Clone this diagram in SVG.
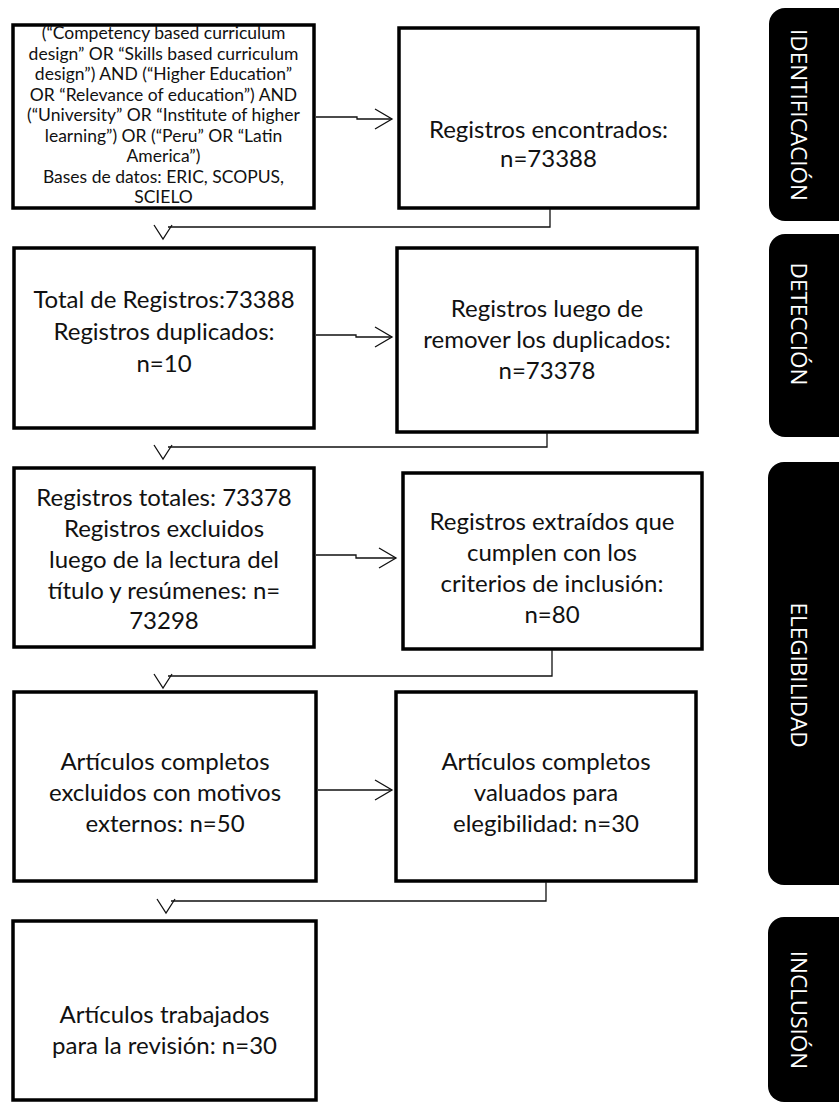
<svg xmlns="http://www.w3.org/2000/svg" xmlns:xlink="http://www.w3.org/1999/xlink" width="839" height="1111" viewBox="0 0 839 1111">
<style>
.box{fill:#fff;stroke:#000;stroke-width:3.5}
.t{font-family:Lato,"Open Sans","Liberation Sans",sans-serif;font-size:24px;fill:#111;text-anchor:middle}
.ts{font-family:Lato,"Open Sans","Liberation Sans",sans-serif;font-size:17.5px;fill:#111;text-anchor:middle}
.tab{fill:#000}
.tt{font-family:"Open Sans","Noto Sans","Liberation Sans",sans-serif;font-size:22.5px;fill:#fff;text-anchor:middle}
.c{fill:none;stroke:#111;stroke-width:1.3}
</style>
<defs>
<path id="vdown" d="M-9,-14 L0,0 L9,-14" fill="none" stroke="#111" stroke-width="1.3"/>
<path id="vright" d="M-17,-10 L0,0 L-17,10" fill="none" stroke="#111" stroke-width="1.3"/>
</defs>
<rect width="839" height="1111" fill="#fff"/>
<g id="n1">
<rect class="box" x="13" y="25" width="301" height="183"/>
<text class="ts"><tspan x="163.5" y="39">(“Competency based curriculum</tspan><tspan x="163.5" y="59.5">design” OR “Skills based curriculum</tspan><tspan x="163.5" y="80">design”) AND (“Higher Education”</tspan><tspan x="163.5" y="100.5">OR “Relevance of education”) AND</tspan><tspan x="163.5" y="121">(“University” OR “Institute of higher</tspan><tspan x="163.5" y="141.5">learning”) OR (“Peru” OR “Latin</tspan><tspan x="163.5" y="162">America”)</tspan><tspan x="163.5" y="182.5">Bases de datos: ERIC, SCOPUS,</tspan><tspan x="163.5" y="203">SCIELO</tspan></text>
</g>
<g id="n2">
<rect class="box" x="399" y="28" width="299" height="180"/>
<text class="t"><tspan x="548.5" y="138">Registros encontrados:</tspan><tspan x="548.5" y="167">n=73388</tspan></text>
</g>
<g id="n3">
<rect class="box" x="14" y="248" width="300" height="180"/>
<text class="t"><tspan x="164" y="308">Total de Registros:73388</tspan><tspan x="164" y="340">Registros duplicados:</tspan><tspan x="164" y="372">n=10</tspan></text>
</g>
<g id="n4">
<rect class="box" x="397" y="248" width="300" height="184"/>
<text class="t"><tspan x="547" y="317">Registros luego de</tspan><tspan x="547" y="348">remover los duplicados:</tspan><tspan x="547" y="379">n=73378</tspan></text>
</g>
<g id="n5">
<rect class="box" x="14" y="468" width="300" height="179"/>
<text class="t"><tspan x="164" y="506">Registros totales: 73378</tspan><tspan x="164" y="537">Registros excluidos</tspan><tspan x="164" y="568">luego de la lectura del</tspan><tspan x="164" y="599">título y resúmenes: n=</tspan><tspan x="164" y="629">73298</tspan></text>
</g>
<g id="n6">
<rect class="box" x="403" y="473" width="299" height="176"/>
<text class="t"><tspan x="552" y="530">Registros extraídos que</tspan><tspan x="552" y="561">cumplen con los</tspan><tspan x="552" y="592">criterios de inclusión:</tspan><tspan x="552" y="623">n=80</tspan></text>
</g>
<g id="n7">
<rect class="box" x="14" y="692" width="302" height="189"/>
<text class="t"><tspan x="165" y="770">Artículos completos</tspan><tspan x="165" y="801">excluidos con motivos</tspan><tspan x="165" y="832">externos: n=50</tspan></text>
</g>
<g id="n8">
<rect class="box" x="396" y="692" width="300" height="189"/>
<text class="t"><tspan x="546" y="770">Artículos completos</tspan><tspan x="546" y="801">valuados para</tspan><tspan x="546" y="832">elegibilidad: n=30</tspan></text>
</g>
<g id="n9">
<rect class="box" x="13" y="921" width="303" height="179"/>
<text class="t"><tspan x="164.5" y="1023">Artículos trabajados</tspan><tspan x="164.5" y="1054">para la revisión: n=30</tspan></text>
</g>
<g id="tab1">
<rect class="tab" x="769" y="8" width="90" height="213" rx="16"/>
<text class="tt" transform="translate(791,115) rotate(90)">IDENTIFICACIÓN</text>
</g>
<g id="tab2">
<rect class="tab" x="769" y="234" width="90" height="203" rx="16"/>
<text class="tt" transform="translate(791,324) rotate(90)">DETECCIÓN</text>
</g>
<g id="tab3">
<rect class="tab" x="768" y="462" width="90" height="423" rx="16"/>
<text class="tt" transform="translate(791,675) rotate(90)">ELEGIBILIDAD</text>
</g>
<g id="tab4">
<rect class="tab" x="768" y="917" width="90" height="185" rx="16"/>
<text class="tt" transform="translate(791,1010) rotate(90)">INCLUSIÓN</text>
</g>
<g id="connectors">
<path class="c" d="M316,117 H357 V119 H392"/>
<use xlink:href="#vright" x="392" y="119"/>
<path class="c" d="M316,335 H356 V337 H392"/>
<use xlink:href="#vright" x="392" y="337"/>
<path class="c" d="M316,555 H356 V558 H396"/>
<use xlink:href="#vright" x="396" y="558"/>
<path class="c" d="M318,790 H392"/>
<use xlink:href="#vright" x="392" y="790"/>
<path class="c" d="M550,209 V227 H168"/>
<use xlink:href="#vdown" x="163" y="239"/>
<path class="c" d="M547,433 V447 H168"/>
<use xlink:href="#vdown" x="163" y="459"/>
<path class="c" d="M552,650 V676 H168"/>
<use xlink:href="#vdown" x="163" y="688"/>
<path class="c" d="M546,882 V901 H171"/>
<use xlink:href="#vdown" x="166" y="913"/>
</g>
</svg>
